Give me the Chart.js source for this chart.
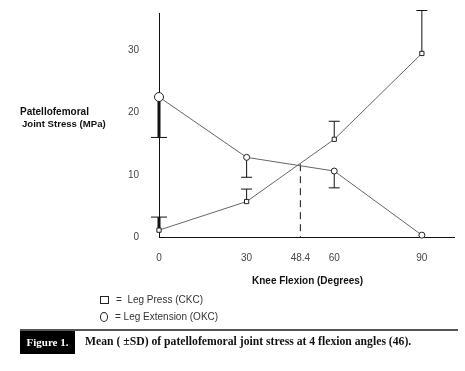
<!DOCTYPE html>
<html><head><meta charset="utf-8">
<script src="https://cdn.jsdelivr.net/npm/chart.js@4/dist/chart.umd.min.js"></script>
<style>
html,body{margin:0;padding:0;background:#fff;}
#wrap{position:relative;width:465px;height:371px;overflow:hidden;background:#fff;}
canvas{position:absolute;left:0;top:0;}
.t{position:absolute;font-family:"Liberation Sans",Arial,sans-serif;white-space:nowrap;}
.s{position:absolute;font-family:"Liberation Serif","Times New Roman",serif;font-weight:bold;white-space:nowrap;}
</style></head><body>
<div id="wrap">
<canvas id="c" width="465" height="371"></canvas>
<div class="t" style="left:20px;top:106px;font-weight:bold;font-size:10px;color:#111">Patellofemoral</div>
<div class="t" style="left:22px;top:118px;font-weight:bold;font-size:9.6px;color:#111">Joint Stress (MPa)</div>
<div class="t" style="left:252px;top:275px;font-weight:bold;font-size:10px;color:#111">Knee Flexion (Degrees)</div>
<div style="position:absolute;left:100px;top:296px;width:7px;height:6px;border:1px solid #222;"></div>
<div class="t" style="left:116px;top:294px;font-size:10px;color:#333">= &nbsp;Leg Press (CKC)</div>
<div style="position:absolute;left:100px;top:312px;width:6px;height:8px;border:1px solid #222;border-radius:50%;"></div>
<div class="t" style="left:115px;top:311px;font-size:10px;color:#333">= Leg Extension (OKC)</div>
<div style="position:absolute;left:20px;top:329px;width:438px;height:2px;background:#555;"></div>
<div class="s" style="left:20px;top:331px;width:55px;height:23px;background:#000;color:#fff;font-size:11px;line-height:23px;text-align:center;">Figure 1.</div>
<div class="s" style="left:85px;top:335px;font-size:11.7px;color:#111">Mean ( ±SD) of patellofemoral joint stress at 4 flexion angles (46).</div>
</div>
<script>
const flexion = [0, 30, 60, 90];
const legPress = [1.1, 5.7, 15.7, 29.5];
const legPressSD = [2.1, 2.0, 2.9, 6.9];
const legExt = [22.5, 12.8, 10.6, 0.3];
const legExtSD = [6.5, 3.2, 2.7, 0];
const xTicks = [0, 30, 48.4, 60, 90];
const yTicks = [0, 10, 20, 30];
const crossX = [48.4];
const crossY = [11.7];

const errPlugin = {
  id: 'err',
  beforeDatasetsDraw(chart) {
    const ctx = chart.ctx, xs = chart.scales.x, ys = chart.scales.y;
    ctx.save();
    ctx.strokeStyle = '#111';
    ctx.setLineDash([7, 5]);
    ctx.lineWidth = 1;
    ctx.beginPath();
    ctx.moveTo(xs.getPixelForValue(crossX[0]), ys.getPixelForValue(crossY[0]));
    ctx.lineTo(xs.getPixelForValue(crossX[0]), ys.getPixelForValue(0));
    ctx.stroke();
    ctx.setLineDash([]);
    const drawBar = (x, y0, y1, thick) => {
      const px = xs.getPixelForValue(x), p0 = ys.getPixelForValue(y0), p1 = ys.getPixelForValue(y1);
      ctx.lineWidth = thick ? 3 : 1;
      ctx.beginPath(); ctx.moveTo(px, p0); ctx.lineTo(px, p1); ctx.stroke();
      const hw = thick ? 8 : 5.5;
      ctx.lineWidth = 1;
      ctx.beginPath(); ctx.moveTo(px - hw, p1); ctx.lineTo(px + hw, p1); ctx.stroke();
    };
    flexion.forEach((x, i) => {
      if (legPressSD[i] > 0) drawBar(x, legPress[i], legPress[i] + legPressSD[i], i === 0);
      if (legExtSD[i] > 0) drawBar(x, legExt[i], legExt[i] - legExtSD[i], i === 0);
    });
    ctx.restore();
  }
};

new Chart(document.getElementById('c'), {
  type: 'scatter',
  data: {
    datasets: [
      { label: 'Leg Press (CKC)', data: flexion.map((x, i) => ({x, y: legPress[i]})),
        showLine: true, borderColor: '#666', borderWidth: 1, pointStyle: 'rect', pointRadius: 3,
        pointBackgroundColor: '#fff', pointBorderColor: '#222', pointBorderWidth: 1, clip: false },
      { label: 'Leg Extension (OKC)', data: flexion.map((x, i) => ({x, y: legExt[i]})),
        showLine: true, borderColor: '#666', borderWidth: 1, pointStyle: 'circle',
        pointRadius: c => c.dataIndex === 0 ? 4.5 : 3,
        pointBackgroundColor: '#fff', pointBorderColor: '#222', pointBorderWidth: 1, clip: false }
    ]
  },
  options: {
    responsive: false, animation: false, devicePixelRatio: 1,
    layout: { autoPadding: false, padding: { left: 99, top: 13, right: 11, bottom: 94 } },
    plugins: { legend: { display: false }, tooltip: { enabled: false } },
    scales: {
      x: { type: 'linear', min: 0, max: 101,
        afterBuildTicks: s => { s.ticks = xTicks.map(v => ({ value: v })); },
        afterFit: s => { s.height = 40; s.paddingLeft = 0; s.paddingRight = 0; },
        grid: { display: false, drawTicks: false },
        border: { color: '#111', width: 1 },
        ticks: { color: '#444', font: { family: 'Liberation Sans', size: 10 }, padding: 15, maxRotation: 0, autoSkip: false, callback: v => String(v) } },
      y: { type: 'linear', min: 0, max: 36,
        afterBuildTicks: s => { s.ticks = yTicks.map(v => ({ value: v })); },
        afterFit: s => { s.width = 60; s.paddingTop = 0; s.paddingBottom = 0; },
        grid: { display: false, drawTicks: false },
        border: { color: '#111', width: 1 },
        ticks: { color: '#444', font: { family: 'Liberation Sans', size: 10 }, padding: 20, callback: v => String(v) } }
    }
  },
  plugins: [errPlugin]
});
</script>
</body></html>
